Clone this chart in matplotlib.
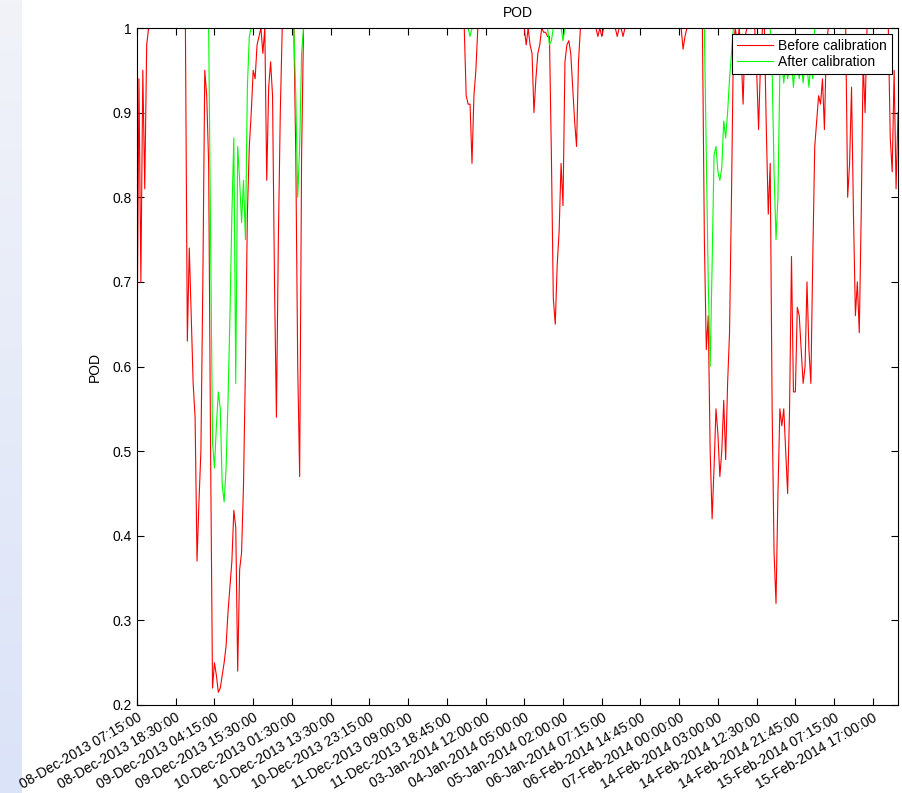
import matplotlib
matplotlib.use("Agg")
import matplotlib.pyplot as plt
import numpy as np
from matplotlib.colors import LinearSegmentedColormap

plt.rcParams['font.family'] = ['Liberation Sans', 'DejaVu Sans']
plt.rcParams['font.size'] = 10

############################### données ###############################

# étiquettes de l'axe x : un horodatage tous les 20 échantillons
tick_step = 20
tick_labels = [
    "08-Dec-2013 07:15:00", "08-Dec-2013 18:30:00", "09-Dec-2013 04:15:00",
    "09-Dec-2013 15:30:00", "10-Dec-2013 01:30:00", "10-Dec-2013 13:30:00",
    "10-Dec-2013 23:15:00", "11-Dec-2013 09:00:00", "11-Dec-2013 18:45:00",
    "03-Jan-2014 12:00:00", "04-Jan-2014 05:00:00", "05-Jan-2014 02:00:00",
    "06-Jan-2014 07:15:00", "06-Feb-2014 14:45:00", "07-Feb-2014 00:00:00",
    "14-Feb-2014 03:00:00", "14-Feb-2014 12:30:00", "14-Feb-2014 21:45:00",
    "15-Feb-2014 07:15:00", "15-Feb-2014 17:00:00",
]

y_ticks = [0.2, 0.3, 0.4, 0.5, 0.6, 0.7, 0.8, 0.9, 1.0]
y_tick_labels = ["0.2", "0.3", "0.4", "0.5", "0.6", "0.7", "0.8", "0.9", "1"]

# POD avant calibration (rouge), un point par échantillon
pod_before = (
    [0.61, 0.94, 0.70, 0.95, 0.81, 0.98]                      # 0-5
    + [1.0] * 20                                               # 6-25
    + [0.63, 0.74, 0.66, 0.58, 0.54, 0.37, 0.44, 0.50, 0.70,   # 26-34
       0.95, 0.92, 0.84, 0.50, 0.22, 0.25, 0.235, 0.215, 0.22, # 35-43
       0.235, 0.25, 0.27, 0.31, 0.34, 0.37, 0.43, 0.41, 0.24,  # 44-52
       0.36, 0.38, 0.46, 0.60, 0.78, 0.86, 0.90, 0.95, 0.94,   # 53-61
       0.98, 0.99, 1.0, 0.97, 1.0, 0.82, 0.93, 0.96, 0.92,     # 62-70
       0.70, 0.54, 0.75, 0.90]                                 # 71-74
    + [1.0] * 7                                                # 75-81
    + [0.85, 0.60, 0.47, 0.85]                                 # 82-85
    + [1.0] * 84                                               # 86-169
    + [0.92, 0.91, 0.91, 0.84, 0.92, 0.95]                     # 170-175
    + [1.0] * 25                                               # 176-200
    + [0.98, 1.0, 0.98, 0.97, 0.90, 0.94, 0.97, 0.98, 1.0,     # 201-209
       0.995, 0.995, 0.99, 0.99, 0.85, 0.68, 0.65, 0.72, 0.76, # 210-218
       0.84, 0.79, 0.96, 0.98, 0.985, 0.97, 0.93, 0.89, 0.86,  # 219-227
       0.96]                                                   # 228
    + [1.0] * 9 + [0.99, 1.0, 0.99]                            # 229-240
    + [1.0] * 7 + [0.99, 1.0, 1.0, 0.99]                       # 241-251
    + [1.0] * 30                                               # 252-281
    + [0.975, 0.99]                                            # 282-283
    + [1.0] * 9                                                # 284-292
    + [0.75, 0.62, 0.66, 0.50, 0.42, 0.48, 0.55, 0.52, 0.47,   # 293-301
       0.50, 0.56, 0.49, 0.58, 0.64, 0.80, 0.98, 1.0, 0.98,    # 302-310
       1.0, 0.97, 0.91, 0.99]                                  # 311-314
    + [1.0] * 5                                                # 315-319
    + [0.95, 0.88, 0.96, 1.0, 1.0]                             # 320-324
    + [0.88, 0.78, 0.84, 0.55, 0.38, 0.32, 0.45, 0.55, 0.53,   # 325-333
       0.55, 0.50, 0.45, 0.55, 0.73, 0.57, 0.57, 0.67, 0.66,   # 334-342
       0.62, 0.58, 0.60, 0.70, 0.62, 0.58, 0.73, 0.86, 0.89,   # 343-351
       0.92, 0.91, 0.94, 0.88, 0.98]                           # 352-356
    + [1.0] * 10                                               # 357-366
    + [0.80, 0.84, 0.93, 0.78, 0.66, 0.70, 0.64, 0.78, 0.96,   # 367-375
       0.90]                                                   # 376
    + [1.0] * 12                                               # 377-388
    + [0.87, 0.83, 0.95, 0.81, 0.90]                           # 389-393
)

# POD après calibration (vert)
pod_after = (
    [1.0] * 38                                                 # 0-37
    + [0.75, 0.51, 0.48, 0.53, 0.57, 0.55, 0.46, 0.44, 0.48,   # 38-46
       0.56, 0.66, 0.78, 0.87, 0.58, 0.86, 0.82, 0.77, 0.82,   # 47-55
       0.75, 0.93, 0.99]                                       # 56-58
    + [1.0] * 23                                               # 59-81
    + [0.92, 0.80, 0.86, 0.97]                                 # 82-85
    + [1.0] * 86 + [0.99]                                      # 86-172
    + [1.0] * 40 + [0.98, 0.985]                               # 173-214
    + [1.0] * 5 + [0.985]                                      # 215-220
    + [1.0] * 73                                               # 221-293
    + [0.85, 0.70, 0.60, 0.72, 0.85, 0.86, 0.83, 0.82, 0.835,  # 294-302
       0.89, 0.87, 0.90, 0.94, 0.97]                           # 303-307
    + [1.0] * 20                                               # 308-327
    + [0.95, 0.83, 0.75, 0.80, 0.95, 0.96, 0.935, 0.96, 0.94,  # 328-336
       0.955, 0.96, 0.93, 0.96, 0.955, 0.94, 0.96, 0.935,      # 337-344
       0.96, 0.955, 0.93, 0.96, 0.94]                          # 345-349
    + [1.0] * 44                                               # 350-393
)

############################### figure ###############################

W, H = 903, 793
fig = plt.figure(figsize=(W / 100, H / 100), dpi=100)

# bande bleutée à gauche (fond de la fenêtre)
strip = fig.add_axes([0, 0, 22 / W, 1])
grad = np.linspace(0, 1, 256).reshape(-1, 1)
cmap = LinearSegmentedColormap.from_list("strip", ["#f1f3f9", "#dbe3f8"])
strip.imshow(grad, aspect="auto", cmap=cmap, extent=[0, 1, 0, 1], origin="upper")
strip.axis("off")

ax = fig.add_axes([137 / W, (H - 705) / H, 761 / W, 677 / H])
x = np.arange(len(pod_before))

ax.plot(x, pod_before, color="#ff0000", lw=0.8, label="Before calibration")
ax.plot(x, pod_after, color="#00ff00", lw=0.8, label="After calibration")

ax.set_xlim(0, len(pod_before) - 1)
ax.set_ylim(0.2, 1.0)

ax.set_yticks(y_ticks)
ax.set_yticklabels(y_tick_labels)
ax.set_xticks(np.arange(len(tick_labels)) * tick_step)
ax.set_xticklabels(tick_labels, rotation=30, ha="right", va="top",
                   rotation_mode="anchor")

ax.tick_params(direction="in", top=True, right=True, length=5, width=0.8,
               labelsize=10, pad=4)
for s in ax.spines.values():
    s.set_linewidth(0.8)
    s.set_color("black")

ax.set_title("POD", fontsize=10, pad=8)
ax.set_ylabel("POD", fontsize=10)
ax.yaxis.set_label_coords(-0.046, 0.5)

leg = ax.legend(loc="upper right", bbox_to_anchor=(0.992, 0.991),
                borderaxespad=0, fancybox=False, edgecolor="black",
                framealpha=1, handlelength=2.55, handletextpad=0.4,
                borderpad=0.35, labelspacing=0.15, fontsize=10)
leg.get_frame().set_linewidth(0.8)

fig.savefig("out.png", dpi=100)
